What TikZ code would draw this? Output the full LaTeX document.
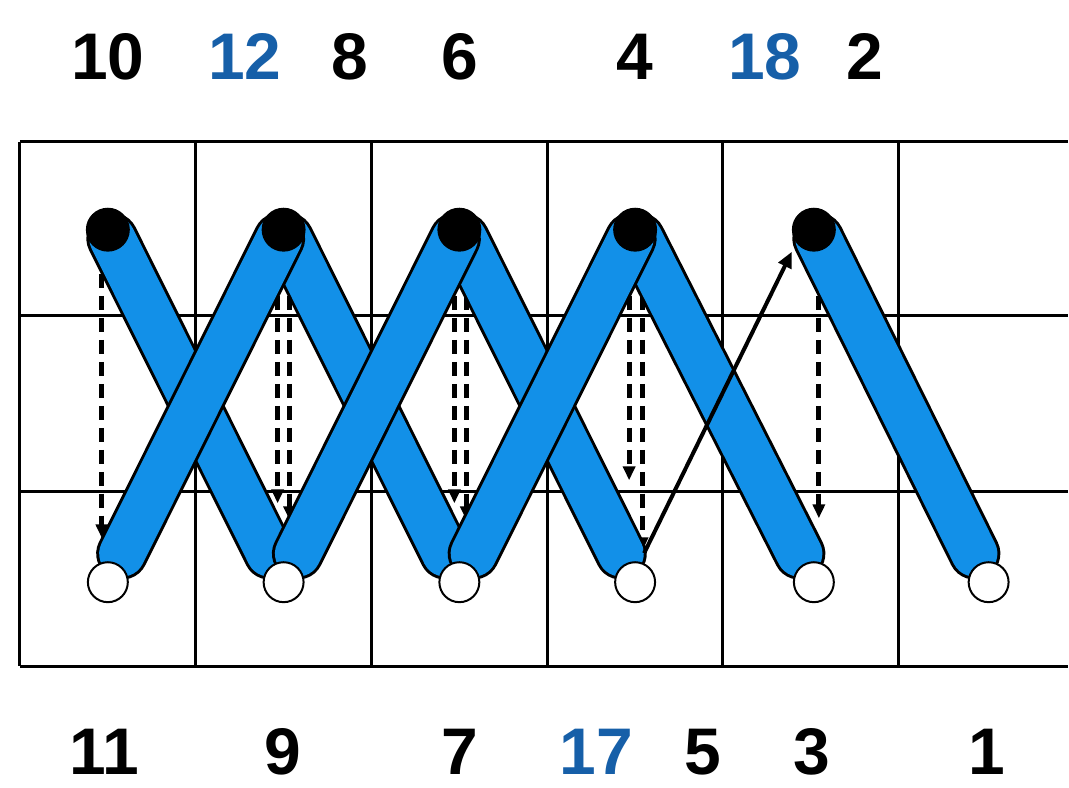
\documentclass[tikz,border=0pt]{standalone}
\usepackage{fontspec}
\setmainfont{Liberation Sans}
\usetikzlibrary{arrows.meta}
\definecolor{bandblue}{RGB}{18,144,232}
\definecolor{lblue}{RGB}{22,95,168}
\pgfdeclarelayer{bg}
\pgfdeclarelayer{backstitch}
\pgfdeclarelayer{bands}
\pgfsetlayers{bg,backstitch,bands,main}
\begin{document}
\begin{tikzpicture}[x=0.5pt,y=-0.5pt,
  gridline/.style={line width=1.5pt},
  lbl/.style={anchor=base,inner sep=0pt,font=\fontsize{33}{33}\selectfont\bfseries},
  hole/.style={circle,draw=black,fill=white,line width=1pt,minimum size=20pt,inner sep=0pt},
  knot/.style={circle,fill=black,minimum size=22pt,inner sep=0pt},
  bandout/.style={line width=26pt,line cap=round,draw=black,shorten <=5pt,shorten >=16pt},
  bandin/.style={line width=23pt,line cap=round,draw=bandblue,shorten <=5pt,shorten >=16pt},
  backst/.style={line width=2.5pt,dash pattern=on 7pt off 4pt,-{Triangle[length=7pt,width=6pt]}},
  frontst/.style={line width=2pt,-{Triangle[length=8pt,width=7pt]}}
]
\begin{pgfonlayer}{bg}
\fill[white] (0,0) rectangle (1069,789);
\foreach \x in {20,196,372,548,724,900} \draw[gridline] (\x,142) -- (\x,667);
\foreach \y in {142,316,492,667} \draw[gridline] (20,\y) -- (1069,\y);
\end{pgfonlayer}
\useasboundingbox (0,0) rectangle (1069,789);

% holes
\node[knot] (T1) at (108,230) {};
\node[knot] (T2) at (284,230) {};
\node[knot] (T3) at (460,230) {};
\node[knot] (T4) at (636,230) {};
\node[knot] (T5) at (815,230) {};
\node[hole] (B1) at (108,583) {};
\node[hole] (B2) at (284,583) {};
\node[hole] (B3) at (460,583) {};
\node[hole] (B4) at (636,583) {};
\node[hole] (B5) at (815,583) {};
\node[hole] (B6) at (990,583) {};

% back stitches (dashed)
\begin{pgfonlayer}{backstitch}
\draw[backst] ([xshift=-3pt]T1.south) -- ([xshift=-3pt,yshift=11.5pt]B1.north);
\draw[backst] ([xshift=-3pt]T2.south) -- ([xshift=-3pt,yshift=29pt]B2.north);
\draw[backst] ([xshift=3pt]T2.south) -- ([xshift=3pt,yshift=20.5pt]B2.north);
\draw[backst] ([xshift=-2.5pt]T3.south) -- ([xshift=-2.5pt,yshift=29pt]B3.north);
\draw[backst] ([xshift=3.5pt]T3.south) -- ([xshift=3.5pt,yshift=20.5pt]B3.north);
\draw[backst] ([xshift=-3pt]T4.south) -- ([xshift=-3pt,yshift=40.5pt]B4.north);
\draw[backst] ([xshift=3.5pt]T4.south) -- ([xshift=3.5pt,yshift=5pt]B4.north);
\draw[backst] ([xshift=2.5pt]T5.south) -- ([xshift=2.5pt,yshift=21.5pt]B5.north);
\end{pgfonlayer}

% front stitches (blue bands)
\begin{pgfonlayer}{bands}
\foreach \a/\b in {T5/B6,T4/B5,T3/B4,T2/B3,T1/B2}{
  \draw[bandout] (\a.center) -- (\b.center);
  \draw[bandin] (\a.center) -- (\b.center);
}
\foreach \a/\b in {T2/B1,T3/B2,T4/B3}{
  \draw[bandout] (\a.center) -- (\b.center);
  \draw[bandin] (\a.center) -- (\b.center);
}
\end{pgfonlayer}

% next stitch
\draw[frontst] ([xshift=4.5pt,yshift=4pt]B4.north) -- ([xshift=-11pt,yshift=-11pt]T5.center);

% labels
\node[lbl] (l10) at (108,80) {10};
\node[lbl,text=lblue] (l12) at (245,80) {12};
\node[lbl] (l8) at (350,80) {8};
\node[lbl] (l6) at (460,80) {6};
\node[lbl] (l4) at (636,80) {4};
\node[lbl,text=lblue] (l18) at (766,80) {18};
\node[lbl] (l2) at (866,80) {2};
\node[lbl] (l11) at (104,776) {11};
\node[lbl] (l9) at (283,776) {9};
\node[lbl] (l7) at (460,776) {7};
\node[lbl,text=lblue] (l17) at (597,776) {17};
\node[lbl] (l5) at (704,776) {5};
\node[lbl] (l3) at (813,776) {3};
\node[lbl] (l1) at (988,776) {1};
\end{tikzpicture}
\end{document}
